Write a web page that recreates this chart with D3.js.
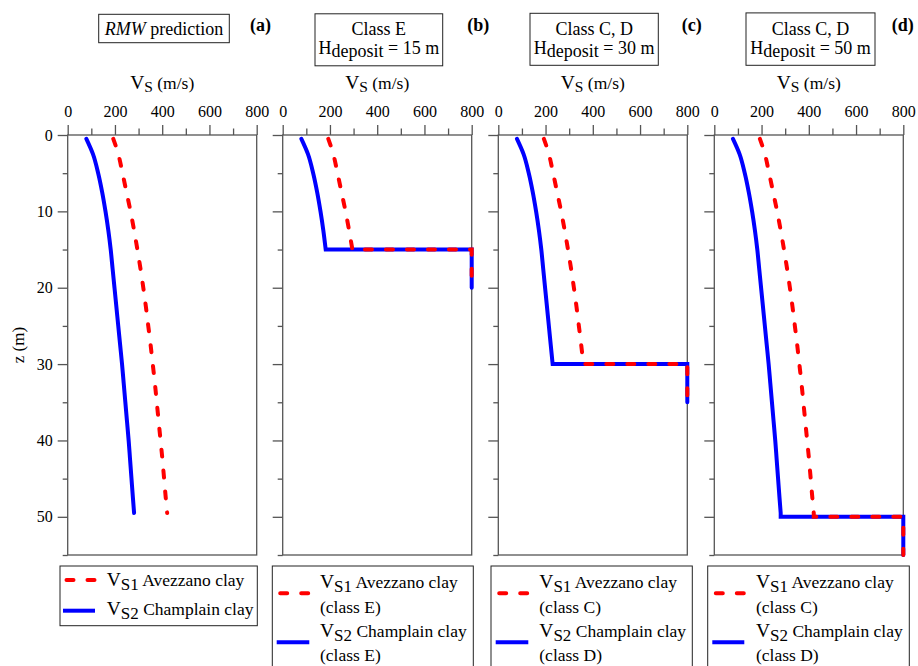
<!DOCTYPE html>
<html>
<head>
<meta charset="utf-8">
<script src="https://cdn.jsdelivr.net/npm/d3@7"></script>
<style>
  html, body { margin: 0; padding: 0; background: #fff; }
  svg { display: block; font-family: "Liberation Serif", "Times New Roman", serif; }
</style>
</head>
<body>
<svg id="chart" width="918" height="666"></svg>
<script>
// Shear-wave velocity profiles (m/s) against depth z (m)
const depth        = [0.5, 2.5, 5, 7.5, 10, 12.5, 15, 17.5, 20, 22.5, 25, 27.5, 30, 32.5, 35, 37.5, 40, 42.5, 45, 47.5, 49.5];
const vs1Avezzano  = [193, 214, 232, 249, 266, 281, 295, 308, 320, 331, 341, 351, 360, 369, 377, 385, 393, 401, 408, 415, 421];
const vs2Champlain = [79, 107, 129, 146, 160, 172, 182, 190, 198, 206, 214, 222, 230, 237, 244, 251, 258, 264, 270, 276, 281];

// Panels: deposit thickness over bedrock (null = full RMW prediction)
const panelTags     = ["(a)", "(b)", "(c)", "(d)"];
const depositDepth  = [null, 15, 30, 50];
const classTitle    = [null, "Class E", "Class C, D", "Class C, D"];
const vs1ClassLabel = [null, "(class E)", "(class C)", "(class C)"];
const vs2ClassLabel = [null, "(class E)", "(class D)", "(class D)"];
const bedrockVs = 800;
const bedrockThickness = 5;

// Axes
const vsDomain = [0, 800];
const zDomain = [0, 55];
const vsMajorTicks = [0, 200, 400, 600, 800];
const vsMinorTicks = [100, 300, 500, 700];
const zMajorTicks = [0, 10, 20, 30, 40, 50];
const zMinorTicks = [5, 15, 25, 35, 45, 55];

// ---- layout ----
const panelLeft = [67.7, 282.7, 498.3, 714.3];
const panelW = 189, panelTop = 135, panelH = 420;
const titleBox = [
  {x: 98.7, y: 14.3, w: 130.6, h: 28.4},
  {x: 315, y: 13.8, w: 127.7, h: 52},
  {x: 530, y: 13.3, w: 128.3, h: 52},
  {x: 746, y: 12.9, w: 129, h: 52.4}
];
const tagX = [250, 467.3, 681.7, 891.7];
const legendBox = [
  {x: 60, w: 197.3, s0: 63, s1: 95, tx: 106.7},
  {x: 272.3, w: 201, s0: 276.7, s1: 309.3, tx: 320},
  {x: 491, w: 201.3, s0: 495.7, s1: 528.3, tx: 539.3},
  {x: 707.7, w: 201.6, s0: 712.3, s1: 744.3, tx: 756}
];
const legendTop = 566;

const RED = "#ff0000", BLUE = "#0000ff", AXIS = "#555";
const DASH = "7,14";

const svg = d3.select("#chart");

// depth axis label
svg.append("text")
  .attr("transform", "translate(24,345) rotate(-90)")
  .attr("text-anchor", "middle")
  .attr("font-size", 17)
  .text("z (m)");

// smooth profile down to the deposit base, then straight steps into bedrock
function profilePath(values, H, x, y) {
  const pts = [];
  depth.forEach((z, i) => { if (H === null || z <= H) pts.push([values[i], z]); });
  const ctx = d3.path();
  d3.line().x(d => x(d[0])).y(d => y(d[1])).curve(d3.curveMonotoneY).context(ctx)(pts);
  if (H !== null) {
    const last = pts[pts.length - 1];
    if (last[1] < H) ctx.lineTo(x(last[0]), y(H));
    ctx.lineTo(x(bedrockVs), y(H));
    ctx.lineTo(x(bedrockVs), y(H + bedrockThickness));
  }
  return ctx.toString();
}

function vsLabel(sel, sub, big, small, gap) {
  sel.append("tspan").attr("font-size", big).text("V");
  sel.append("tspan").attr("font-size", small).attr("dy", gap).text("S" + sub);
}

panelTags.forEach((tag, p) => {
  const x0 = panelLeft[p];
  const x = d3.scaleLinear().domain(vsDomain).range([x0, x0 + panelW]);
  const y = d3.scaleLinear().domain(zDomain).range([panelTop, panelTop + panelH]);
  const g = svg.append("g");
  const H = depositDepth[p];

  // top (Vs) axis
  const topMajor = g.append("g").attr("transform", `translate(0,${panelTop})`)
    .call(d3.axisTop(x).tickValues(vsMajorTicks).tickSize(10).tickPadding(8).tickFormat(d3.format("d")));
  const topMinor = g.append("g").attr("transform", `translate(0,${panelTop})`)
    .call(d3.axisTop(x).tickValues(vsMinorTicks).tickSize(6.5).tickFormat(""));
  // left (z) axis
  const leftMajor = g.append("g").attr("transform", `translate(${x0},0)`)
    .call(d3.axisLeft(y).tickValues(zMajorTicks).tickSize(10).tickPadding(5)
      .tickFormat(p === 0 ? d3.format("d") : ""));
  const leftMinor = g.append("g").attr("transform", `translate(${x0},0)`)
    .call(d3.axisLeft(y).tickValues(zMinorTicks).tickSize(5).tickFormat(""));

  [topMajor, topMinor, leftMajor, leftMinor].forEach(a => {
    a.attr("font-family", null).attr("font-size", null);
    a.select(".domain").remove();
    a.selectAll(".tick line").attr("stroke", AXIS).attr("stroke-width", 1.3);
    a.selectAll("text").attr("font-size", 16).attr("fill", "#000");
  });

  // frame
  g.append("rect")
    .attr("x", x0).attr("y", panelTop).attr("width", panelW).attr("height", panelH)
    .attr("fill", "none").attr("stroke", AXIS).attr("stroke-width", 1.3);

  // axis title
  const t = g.append("text").attr("x", x0 + panelW / 2).attr("y", 89).attr("text-anchor", "middle");
  vsLabel(t, "", 19.5, 15.5, 3);
  t.append("tspan").attr("font-size", 17.5).attr("dy", -3).text(" (m/s)");

  // profiles
  g.append("path").attr("d", profilePath(vs2Champlain, H, x, y))
    .attr("fill", "none").attr("stroke", BLUE)
    .attr("stroke-width", 4).attr("stroke-linejoin", "miter").attr("stroke-linecap", "round");
  g.append("path").attr("d", profilePath(vs1Avezzano, H, x, y))
    .attr("fill", "none").attr("stroke", RED)
    .attr("stroke-width", 4).attr("stroke-dasharray", DASH).attr("stroke-linecap", "round");

  // title box
  const tb = titleBox[p];
  g.append("rect").attr("x", tb.x).attr("y", tb.y).attr("width", tb.w).attr("height", tb.h)
    .attr("fill", "none").attr("stroke", "#222").attr("stroke-width", 1);
  const cx = tb.x + tb.w / 2;
  if (H === null) {
    const tt = g.append("text").attr("x", cx).attr("y", 35).attr("text-anchor", "middle").attr("font-size", 18);
    tt.append("tspan").attr("font-style", "italic").text("RMW");
    tt.append("tspan").text(" prediction");
  } else {
    g.append("text").attr("x", cx).attr("y", 34.5).attr("text-anchor", "middle")
      .attr("font-size", 18).text(classTitle[p]);
    const ht = g.append("text").attr("x", cx).attr("y", 53.5).attr("text-anchor", "middle").attr("font-size", 18);
    ht.append("tspan").text("H");
    ht.append("tspan").attr("dy", 3.5).text("deposit");
    ht.append("tspan").attr("dy", -3.5).text(` = ${H} m`);
  }
  g.append("text").attr("x", tagX[p]).attr("y", 31).attr("font-size", 18)
    .attr("font-weight", "bold").text(tag);

  // legend
  const lb = legendBox[p];
  if (H === null) {
    g.append("rect").attr("x", lb.x).attr("y", legendTop).attr("width", lb.w).attr("height", 59.7)
      .attr("fill", "#fff").attr("stroke", "#222").attr("stroke-width", 1);
    g.append("line").attr("x1", lb.s0).attr("x2", lb.s1).attr("y1", 580).attr("y2", 580)
      .attr("stroke", RED).attr("stroke-width", 4).attr("stroke-dasharray", DASH).attr("stroke-linecap", "round")
      .attr("stroke-dashoffset", -3.5);
    g.append("line").attr("x1", lb.s0).attr("x2", lb.s1).attr("y1", 610.7).attr("y2", 610.7)
      .attr("stroke", BLUE).attr("stroke-width", 4);
    const l1 = g.append("text").attr("x", lb.tx).attr("y", 586);
    vsLabel(l1, "1", 19.5, 17, 4);
    l1.append("tspan").attr("font-size", 17.5).attr("dy", -4).text(" Avezzano clay");
    const l2 = g.append("text").attr("x", lb.tx).attr("y", 615);
    vsLabel(l2, "2", 19.5, 17, 4);
    l2.append("tspan").attr("font-size", 17.5).attr("dy", -4).text(" Champlain clay");
  } else {
    g.append("rect").attr("x", lb.x).attr("y", legendTop).attr("width", lb.w).attr("height", 120)
      .attr("fill", "#fff").attr("stroke", "#222").attr("stroke-width", 1);
    g.append("line").attr("x1", lb.s0).attr("x2", lb.s1).attr("y1", 593.3).attr("y2", 593.3)
      .attr("stroke", RED).attr("stroke-width", 4).attr("stroke-dasharray", DASH).attr("stroke-linecap", "round")
      .attr("stroke-dashoffset", -3.5);
    g.append("line").attr("x1", lb.s0).attr("x2", lb.s1).attr("y1", 642.3).attr("y2", 642.3)
      .attr("stroke", BLUE).attr("stroke-width", 4);
    const l1 = g.append("text").attr("x", lb.tx).attr("y", 588.3);
    vsLabel(l1, "1", 19.5, 17, 4);
    l1.append("tspan").attr("font-size", 17.5).attr("dy", -4).text(" Avezzano clay");
    g.append("text").attr("x", lb.tx).attr("y", 612.5).attr("font-size", 17.5).text(vs1ClassLabel[p]);
    const l2 = g.append("text").attr("x", lb.tx).attr("y", 636.7);
    vsLabel(l2, "2", 19.5, 17, 4);
    l2.append("tspan").attr("font-size", 17.5).attr("dy", -4).text(" Champlain clay");
    g.append("text").attr("x", lb.tx).attr("y", 661).attr("font-size", 17.5).text(vs2ClassLabel[p]);
  }
});
</script>
</body>
</html>
